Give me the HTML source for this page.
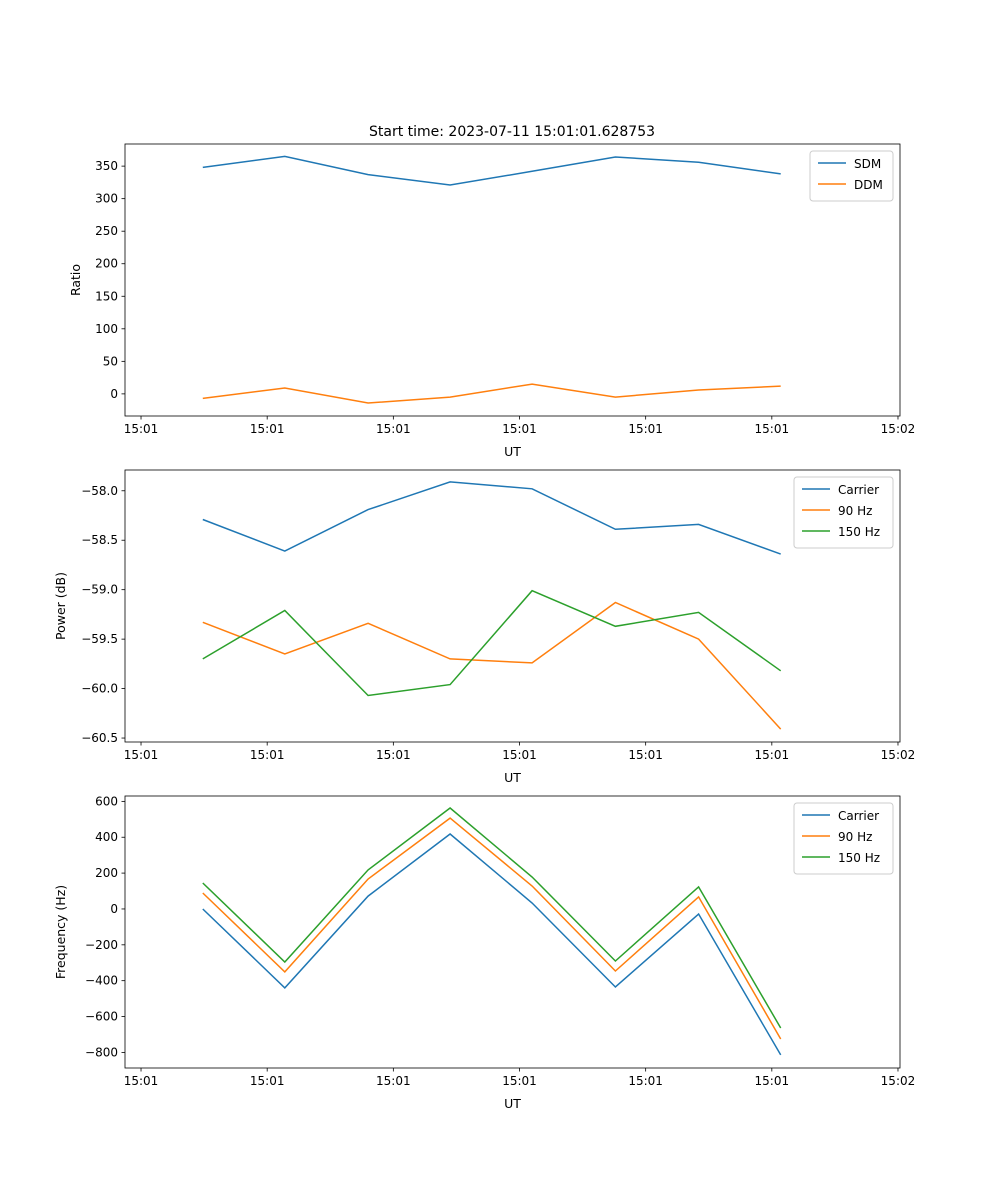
<!DOCTYPE html>
<html><head><meta charset="utf-8"><style>
body{margin:0;background:#fff}
svg{font-family:"DejaVu Sans","Liberation Sans",sans-serif;display:block}
</style></head><body>
<svg id="fig" width="1000" height="1200"></svg>
<script>
const times=[4.9,11.4,18.0,24.5,31.0,37.6,44.2,50.7];
const xTicks=[0,10,20,30,40,50,60];
const xTickLabels=["15:01","15:01","15:01","15:01","15:01","15:01","15:02"];
const sdm=[348,365,337,321,342,364,356,338];
const ddm=[-7,9,-14,-5,15,-5,6,12];
const pCarrier=[-58.29,-58.61,-58.19,-57.91,-57.98,-58.39,-58.34,-58.64];
const p90=[-59.33,-59.65,-59.34,-59.70,-59.74,-59.13,-59.50,-60.41];
const p150=[-59.70,-59.21,-60.07,-59.96,-59.01,-59.37,-59.23,-59.82];
const fCarrier=[0,-440,72,418,33,-435,-28,-814];
const f90=[89,-351,167,507,128,-346,67,-725];
const f150=[145,-296,218,563,178,-290,123,-664];
const ticks1=[0,50,100,150,200,250,300,350];
const ticks2=[-60.5,-60.0,-59.5,-59.0,-58.5,-58.0];
const ticks3=[-800,-600,-400,-200,0,200,400,600];

const svg=document.getElementById('fig');
const NS='http://www.w3.org/2000/svg';
function el(tag,attrs,parent){const e=document.createElementNS(NS,tag);for(const k in attrs)e.setAttribute(k,attrs[k]);(parent||svg).appendChild(e);return e;}
const L=125,R=900;
const xs=t=>L+(t+1.27)/(61.43)*(R-L);
const C=['#1f77b4','#ff7f0e','#2ca02c'];
function panel(name,top,ymin,ymax,ticks,fmt,ylabel,series,labels,legW){
  const bot=top+272;
  const ys=v=>bot-(v-ymin)/(ymax-ymin)*272;
  const g=el('g',{});
  
  
  series.forEach((s,i)=>{
    const p=el('polyline',{points:s.map((v,j)=>xs(times[j]).toFixed(1)+','+ys(v).toFixed(1)).join(' '),fill:'none',stroke:C[i],'stroke-width':1.5},g);
    
    
  });
  el('rect',{x:L,y:top,width:R-L,height:272,fill:'none',stroke:'#000','stroke-width':0.8},g);
  xTicks.forEach((t,i)=>{const x=xs(t);el('line',{x1:x,x2:x,y1:bot,y2:bot+3.5,stroke:'#000','stroke-width':0.8},g);
    const tx=el('text',{x:x,y:bot+17,'text-anchor':'middle','font-size':12},g);tx.textContent=xTickLabels[i];
    });
  ticks.forEach(v=>{const y=ys(v);el('line',{x1:L-3.5,x2:L,y1:y,y2:y,stroke:'#000','stroke-width':0.8},g);
    const tx=el('text',{x:L-7,y:y+4,'text-anchor':'end','font-size':12},g);tx.textContent=fmt(v);
    });
  const xl=el('text',{x:(L+R)/2,y:bot+40,'text-anchor':'middle','font-size':12.5},g);xl.textContent='UT';
  
  const yl=el('text',{x:0,y:0,'text-anchor':'middle','font-size':12.5,transform:`translate(${name==='ratio-panel'?80:65},${top+136}) rotate(-90)`},g);yl.textContent=ylabel;
  
  const lx=R-7-legW,ly=top+7,lh=8+labels.length*21;
  const lg=el('g',{},g);
  el('rect',{x:lx,y:ly,width:legW,height:lh,rx:3,fill:'#fff','fill-opacity':0.8,stroke:'#ccc'},lg);
  labels.forEach((lab,i)=>{const yy=ly+12+i*21;
    el('line',{x1:lx+8,x2:lx+36,y1:yy,y2:yy,stroke:C[i],'stroke-width':1.5},lg);
    const t=el('text',{x:lx+44,y:yy+5,'font-size':12},lg);t.textContent=lab;
    });
}
const title=el('text',{x:512,y:136,'text-anchor':'middle','font-size':14});title.textContent='Start time: 2023-07-11 15:01:01.628753';

panel('ratio-panel',144,-34,384,ticks1,v=>String(v),'Ratio',[sdm,ddm],['SDM','DDM'],83);
panel('power-panel',470,-60.54,-57.79,ticks2,v=>'\u2212'+Math.abs(v).toFixed(1),'Power (dB)',[pCarrier,p90,p150],['Carrier','90 Hz','150 Hz'],99);
panel('frequency-panel',796,-887,630,ticks3,v=>(v<0?'\u2212':'')+Math.abs(v),'Frequency (Hz)',[fCarrier,f90,f150],['Carrier','90 Hz','150 Hz'],99);
</script>
</body></html>
